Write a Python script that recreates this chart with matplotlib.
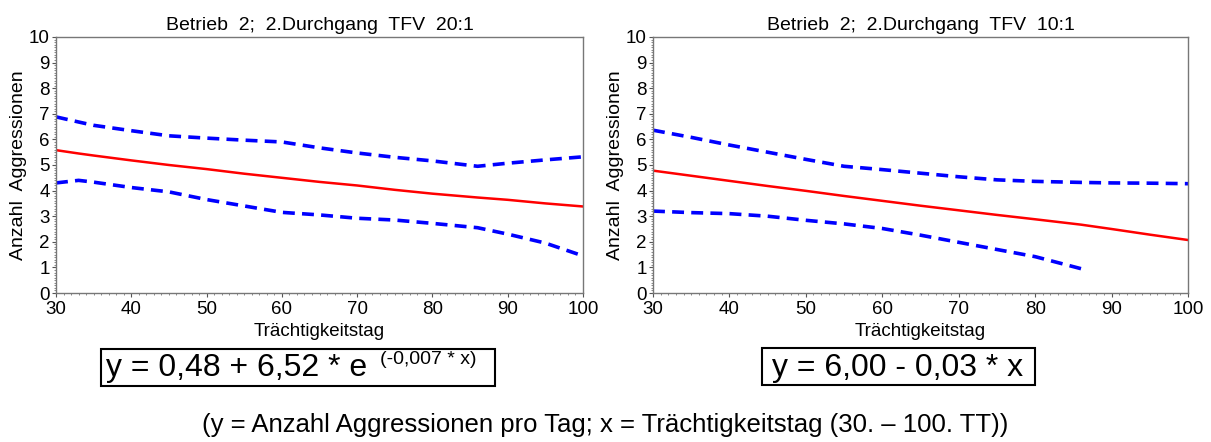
import matplotlib
matplotlib.use("Agg")
import matplotlib.pyplot as plt
from matplotlib.ticker import MultipleLocator
from matplotlib.patches import Rectangle

plt.rcParams['font.family'] = ['Liberation Sans', 'DejaVu Sans']

# Betrieb 2; 2.Durchgang TFV 20:1
x_20 = [30, 33, 35, 40, 45, 50, 55, 60, 65, 70, 75, 80, 86, 90, 95, 100]
fit_20 = [5.58, 5.45, 5.37, 5.18, 5.0, 4.84, 4.66, 4.5, 4.34, 4.2, 4.03, 3.88, 3.73, 3.64, 3.5, 3.38]
upper_20 = [6.88, 6.68, 6.55, 6.34, 6.14, 6.05, 5.97, 5.9, 5.67, 5.47, 5.3, 5.16, 4.95, 5.07, 5.2, 5.32]
lower_20 = [4.3, 4.4, 4.33, 4.12, 3.95, 3.65, 3.4, 3.15, 3.05, 2.92, 2.85, 2.72, 2.55, 2.3, 1.95, 1.45]

# Betrieb 2; 2.Durchgang TFV 10:1
x_10 = [30, 35, 40, 45, 50, 55, 60, 65, 70, 75, 80, 86, 90, 95, 100]
fit_10 = [4.78, 4.58, 4.38, 4.18, 3.99, 3.79, 3.6, 3.41, 3.23, 3.05, 2.88, 2.67, 2.5, 2.28, 2.07]
upper_10 = [6.36, 6.08, 5.78, 5.5, 5.22, 4.95, 4.82, 4.68, 4.54, 4.42, 4.36, 4.32, 4.3, 4.29, 4.27]
x_10_lower = [30, 35, 40, 45, 50, 55, 60, 65, 70, 75, 80, 86]
lower_10 = [3.2, 3.14, 3.1, 3.0, 2.84, 2.7, 2.52, 2.26, 1.98, 1.7, 1.42, 0.95]

titles = ["Betrieb  2;  2.Durchgang  TFV  20:1", "Betrieb  2;  2.Durchgang  TFV  10:1"]
xlabel = "Trächtigkeitstag"
ylabel = "Anzahl  Aggressionen"
caption = "(y = Anzahl Aggressionen pro Tag; x = Trächtigkeitstag (30. – 100. TT))"

W, H = 1211, 442
fig = plt.figure(figsize=(W / 100, H / 100), dpi=100)
ax1 = fig.add_axes([56 / W, 1 - 293 / H, 527 / W, 256 / H])
ax2 = fig.add_axes([653 / W, 1 - 293 / H, 535 / W, 256 / H])

panels = [
    (ax1, x_20, fit_20, x_20, upper_20, x_20, lower_20),
    (ax2, x_10, fit_10, x_10, upper_10, x_10_lower, lower_10),
]

for i, (ax, xf, yf, xu, yu, xl, yl) in enumerate(panels):
    ax.plot(xu, yu, color='#0000ff', lw=2.6, dashes=(3.3, 2.0))
    ax.plot(xl, yl, color='#0000ff', lw=2.6, dashes=(3.3, 2.0))
    ax.plot(xf, yf, color='#ff0000', lw=1.8)
    ax.set_xlim(30, 100)
    ax.set_ylim(0, 10)
    ax.xaxis.set_major_locator(MultipleLocator(10))
    ax.xaxis.set_minor_locator(MultipleLocator(1))
    ax.yaxis.set_major_locator(MultipleLocator(1))
    ax.yaxis.set_minor_locator(MultipleLocator(0.1))
    ax.tick_params(which='major', length=3, width=0.8, color='#555555', labelsize=13.5, pad=1.5)
    ax.tick_params(which='minor', length=1.5, width=0.6, color='#777777')
    ax.tick_params(axis='x', which='major', pad=3)
    for s in ax.spines.values():
        s.set_color('#777777')
        s.set_linewidth(1.0)
    ax.set_title(titles[i], fontsize=14, pad=5)
    ax.set_xlabel(xlabel, fontsize=13.5, labelpad=3)
    ax.set_ylabel(ylabel, fontsize=14, labelpad=1)

# equation boxes
fig.patches.append(Rectangle((101 / W, 1 - 386 / H), 394 / W, 37 / H,
                             transform=fig.transFigure, fill=False, ec='black', lw=1.5))
fig.patches.append(Rectangle((762 / W, 1 - 385 / H), 273 / W, 37 / H,
                             transform=fig.transFigure, fill=False, ec='black', lw=1.5))

fig.text(106 / W, 1 - 368 / H, "y = 0,48 + 6,52 * e", fontsize=23, va='center')
fig.text(380 / W, 1 - 360 / H, "(-0,007 * x)", fontsize=14, va='center', ha='left')

fig.text(898 / W, 1 - 368 / H, "y = 6,00 - 0,03 * x", fontsize=23, va='center', ha='center')

fig.text(605 / W, 1 - 425 / H, caption, fontsize=18.5, ha='center', va='center')

fig.savefig("out.png", dpi=100)
